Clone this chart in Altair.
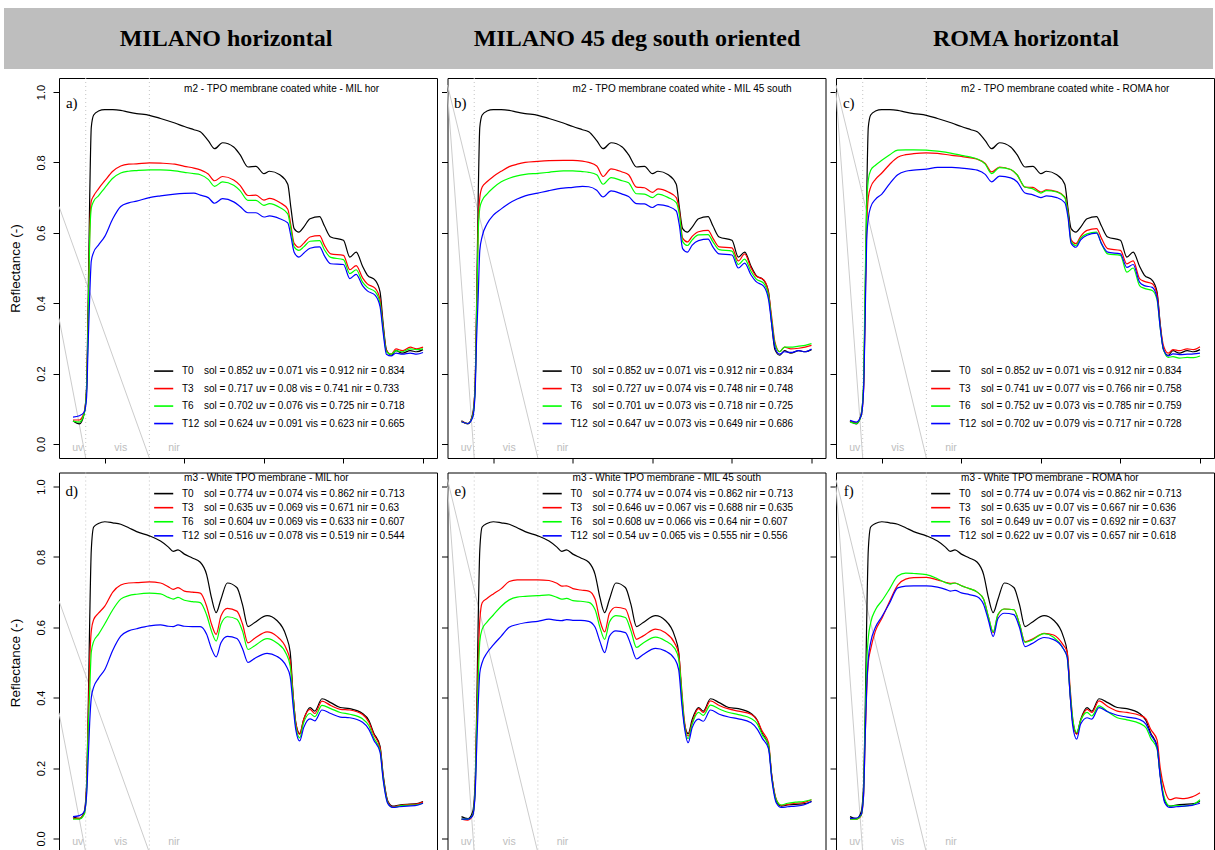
import altair as alt
import pandas as pd

SERIES = ["T0", "T3", "T6", "T12"]
COLORS = ["#000000", "#ff0000", "#00ff00", "#0000ff"]
HEADERS = ["MILANO horizontal", "MILANO 45 deg south oriented", "ROMA horizontal"]
LETTERS = ["a)", "b)", "c)", "d)", "e)", "f)"]
PANEL_TITLES = [
    "m2 - TPO membrane coated white - MIL hor",
    "m2 - TPO membrane coated white - MIL 45 south",
    "m2 - TPO membrane coated white - ROMA hor",
    "m3 - White TPO membrane - MIL hor",
    "m3 - White TPO membrane - MIL 45 south",
    "m3 - White TPO membrane - ROMA hor",
]

# wavelength grids (nm)
WL_M2 = [300, 340, 370, 385, 395, 405, 415, 430, 460, 500,
         550, 600, 650, 700, 780, 850, 940, 1000, 1060, 1100,
         1150, 1190, 1240, 1310, 1350, 1400, 1450, 1500, 1535, 1600,
         1650, 1670, 1690, 1720, 1750, 1790, 1850, 1880, 1920, 2000,
         2040, 2080, 2120, 2150, 2200, 2230, 2250, 2270, 2300, 2330,
         2370, 2420, 2460, 2500]
WL_M3 = [300, 340, 370, 385, 395, 405, 415, 430, 460, 500,
         550, 600, 650, 700, 780, 850, 900, 930, 960, 1000,
         1050, 1100, 1140, 1170, 1200, 1230, 1270, 1330, 1365, 1400,
         1440, 1520, 1580, 1640, 1665, 1685, 1700, 1725, 1750, 1790,
         1820, 1865, 1920, 1980, 2040, 2120, 2160, 2190, 2230, 2250,
         2280, 2310, 2350, 2400, 2450, 2500]

# m2 - TPO membrane coated white
M2_T0 = [0.066, 0.057, 0.085, 0.16, 0.40, 0.70, 0.90, 0.935, 0.946, 0.950,
         0.950, 0.948, 0.943, 0.939, 0.934, 0.925, 0.912, 0.902, 0.893, 0.887,
         0.862, 0.839, 0.856, 0.844, 0.822, 0.787, 0.789, 0.768, 0.775, 0.765,
         0.738, 0.67, 0.612, 0.602, 0.616, 0.640, 0.646, 0.62, 0.588, 0.579,
         0.531, 0.545, 0.505, 0.48, 0.465, 0.432, 0.34, 0.268, 0.252, 0.265,
         0.258, 0.265, 0.262, 0.268]
A_T3 = [0.068, 0.068, 0.09, 0.15, 0.35, 0.60, 0.69, 0.705, 0.725, 0.748,
        0.775, 0.79, 0.795, 0.796, 0.799, 0.798, 0.795, 0.789, 0.784, 0.779,
        0.767, 0.748, 0.760, 0.750, 0.735, 0.706, 0.707, 0.693, 0.698, 0.686,
        0.667, 0.62, 0.57, 0.559, 0.57, 0.588, 0.592, 0.565, 0.54, 0.536,
        0.495, 0.507, 0.472, 0.455, 0.442, 0.41, 0.33, 0.265, 0.255, 0.27,
        0.265, 0.275, 0.27, 0.275]
A_T6 = [0.065, 0.062, 0.085, 0.15, 0.34, 0.58, 0.67, 0.69, 0.705, 0.728,
        0.755, 0.77, 0.775, 0.777, 0.779, 0.779, 0.776, 0.772, 0.768, 0.765,
        0.752, 0.732, 0.745, 0.735, 0.72, 0.692, 0.692, 0.678, 0.683, 0.672,
        0.654, 0.61, 0.56, 0.55, 0.56, 0.576, 0.578, 0.552, 0.53, 0.524,
        0.484, 0.495, 0.46, 0.445, 0.432, 0.40, 0.325, 0.262, 0.255, 0.265,
        0.262, 0.27, 0.268, 0.27]
A_T12 = [0.076, 0.08, 0.09, 0.13, 0.28, 0.42, 0.52, 0.545, 0.565, 0.59,
         0.64, 0.675, 0.685, 0.69, 0.70, 0.705, 0.71, 0.712, 0.713, 0.707,
         0.70, 0.684, 0.697, 0.688, 0.675, 0.657, 0.657, 0.645, 0.648, 0.64,
         0.628, 0.59, 0.545, 0.531, 0.542, 0.556, 0.56, 0.535, 0.512, 0.51,
         0.47, 0.482, 0.45, 0.435, 0.422, 0.39, 0.315, 0.255, 0.25, 0.258,
         0.255, 0.258, 0.255, 0.26]
B_T3 = [0.064, 0.058, 0.08, 0.16, 0.38, 0.62, 0.70, 0.73, 0.745, 0.76,
        0.775, 0.788, 0.795, 0.80, 0.803, 0.805, 0.806, 0.806, 0.804, 0.80,
        0.79, 0.76, 0.782, 0.773, 0.765, 0.73, 0.728, 0.715, 0.725, 0.716,
        0.70, 0.66, 0.585, 0.574, 0.59, 0.603, 0.607, 0.585, 0.56, 0.557,
        0.52, 0.54, 0.50, 0.478, 0.466, 0.428, 0.36, 0.29, 0.262, 0.275,
        0.27, 0.272, 0.275, 0.28]
B_T6 = [0.063, 0.058, 0.078, 0.15, 0.36, 0.60, 0.67, 0.692, 0.71, 0.728,
        0.745, 0.755, 0.762, 0.766, 0.769, 0.772, 0.776, 0.776, 0.774, 0.772,
        0.765, 0.738, 0.757, 0.748, 0.742, 0.711, 0.71, 0.70, 0.71, 0.70,
        0.686, 0.65, 0.575, 0.564, 0.58, 0.594, 0.595, 0.575, 0.552, 0.548,
        0.51, 0.525, 0.49, 0.47, 0.456, 0.42, 0.35, 0.285, 0.262, 0.275,
        0.275, 0.278, 0.28, 0.285]
B_T12 = [0.063, 0.058, 0.075, 0.14, 0.30, 0.42, 0.55, 0.59, 0.625, 0.65,
         0.668, 0.684, 0.696, 0.705, 0.713, 0.72, 0.727, 0.729, 0.732, 0.731,
         0.721, 0.702, 0.719, 0.71, 0.703, 0.683, 0.682, 0.672, 0.68, 0.675,
         0.662, 0.62, 0.555, 0.545, 0.565, 0.578, 0.582, 0.56, 0.54, 0.537,
         0.50, 0.514, 0.48, 0.462, 0.448, 0.41, 0.34, 0.275, 0.255, 0.262,
         0.26, 0.265, 0.262, 0.27]
C_T3 = [0.065, 0.06, 0.08, 0.15, 0.38, 0.62, 0.70, 0.73, 0.752, 0.77,
        0.795, 0.815, 0.822, 0.825, 0.827, 0.826, 0.82, 0.817, 0.813, 0.809,
        0.797, 0.773, 0.787, 0.78, 0.765, 0.73, 0.729, 0.716, 0.722, 0.717,
        0.702, 0.66, 0.58, 0.569, 0.59, 0.607, 0.612, 0.585, 0.555, 0.55,
        0.512, 0.52, 0.47, 0.462, 0.455, 0.425, 0.34, 0.28, 0.258, 0.268,
        0.265, 0.27, 0.268, 0.276]
C_T6 = [0.062, 0.058, 0.08, 0.17, 0.45, 0.68, 0.75, 0.778, 0.792, 0.806,
        0.822, 0.835, 0.836, 0.836, 0.835, 0.832, 0.826, 0.82, 0.815, 0.81,
        0.795, 0.768, 0.785, 0.78, 0.765, 0.73, 0.725, 0.713, 0.72, 0.716,
        0.70, 0.655, 0.575, 0.564, 0.585, 0.597, 0.602, 0.57, 0.54, 0.536,
        0.488, 0.50, 0.45, 0.442, 0.436, 0.41, 0.33, 0.27, 0.246, 0.248,
        0.244, 0.246, 0.245, 0.25]
C_T12 = [0.067, 0.062, 0.08, 0.15, 0.35, 0.58, 0.64, 0.673, 0.695, 0.71,
         0.74, 0.765, 0.775, 0.778, 0.781, 0.786, 0.786, 0.784, 0.781, 0.778,
         0.766, 0.745, 0.761, 0.756, 0.745, 0.713, 0.708, 0.70, 0.705, 0.70,
         0.686, 0.645, 0.57, 0.559, 0.58, 0.593, 0.599, 0.57, 0.545, 0.54,
         0.502, 0.51, 0.46, 0.45, 0.445, 0.415, 0.33, 0.27, 0.25, 0.256,
         0.254, 0.255, 0.256, 0.258]

# m3 - White TPO membrane
M3_T0 = [0.062, 0.056, 0.075, 0.15, 0.35, 0.62, 0.82, 0.885, 0.895, 0.90,
         0.897, 0.893, 0.883, 0.872, 0.86, 0.845, 0.828, 0.816, 0.82, 0.808,
         0.797, 0.785, 0.75, 0.685, 0.642, 0.68, 0.726, 0.713, 0.665, 0.602,
         0.613, 0.633, 0.62, 0.575, 0.53, 0.40, 0.33, 0.298, 0.338, 0.372,
         0.362, 0.397, 0.386, 0.372, 0.369, 0.355, 0.335, 0.30, 0.262, 0.18,
         0.105, 0.092, 0.095, 0.097, 0.098, 0.105]
D_T3 = [0.057, 0.057, 0.07, 0.14, 0.33, 0.50, 0.59, 0.622, 0.64, 0.66,
        0.70, 0.72, 0.726, 0.727, 0.729, 0.726, 0.715, 0.708, 0.713, 0.703,
        0.70, 0.697, 0.66, 0.61, 0.58, 0.632, 0.654, 0.646, 0.61, 0.556,
        0.568, 0.587, 0.575, 0.54, 0.505, 0.40, 0.33, 0.296, 0.338, 0.367,
        0.355, 0.39, 0.378, 0.367, 0.365, 0.352, 0.33, 0.296, 0.258, 0.175,
        0.103, 0.09, 0.093, 0.096, 0.097, 0.103]
D_T6 = [0.055, 0.055, 0.068, 0.13, 0.30, 0.42, 0.53, 0.56, 0.58, 0.61,
        0.65, 0.68, 0.69, 0.694, 0.697, 0.695, 0.685, 0.68, 0.685, 0.677,
        0.673, 0.67, 0.635, 0.59, 0.561, 0.609, 0.63, 0.623, 0.59, 0.537,
        0.547, 0.568, 0.556, 0.525, 0.49, 0.39, 0.32, 0.286, 0.329, 0.355,
        0.346, 0.378, 0.369, 0.358, 0.353, 0.34, 0.32, 0.286, 0.25, 0.17,
        0.10, 0.088, 0.092, 0.094, 0.095, 0.10]
D_T12 = [0.062, 0.065, 0.075, 0.12, 0.22, 0.33, 0.40, 0.43, 0.455, 0.48,
         0.535, 0.575, 0.59, 0.596, 0.604, 0.607, 0.603, 0.602, 0.607, 0.603,
         0.602, 0.602, 0.58, 0.54, 0.516, 0.556, 0.574, 0.568, 0.54, 0.50,
         0.511, 0.526, 0.518, 0.49, 0.46, 0.37, 0.31, 0.277, 0.315, 0.34,
         0.334, 0.365, 0.355, 0.345, 0.343, 0.33, 0.31, 0.28, 0.245, 0.165,
         0.098, 0.088, 0.09, 0.092, 0.093, 0.10]
E_T3 = [0.055, 0.052, 0.065, 0.13, 0.32, 0.50, 0.62, 0.67, 0.682, 0.695,
        0.71, 0.73, 0.735, 0.735, 0.735, 0.733, 0.725, 0.717, 0.718, 0.71,
        0.706, 0.703, 0.68, 0.62, 0.587, 0.64, 0.657, 0.652, 0.61, 0.566,
        0.575, 0.595, 0.585, 0.555, 0.525, 0.42, 0.34, 0.291, 0.33, 0.369,
        0.358, 0.391, 0.378, 0.368, 0.362, 0.353, 0.335, 0.305, 0.272, 0.18,
        0.11, 0.094, 0.097, 0.10, 0.102, 0.11]
E_T6 = [0.055, 0.055, 0.066, 0.13, 0.30, 0.45, 0.56, 0.595, 0.615, 0.635,
        0.66, 0.678, 0.686, 0.688, 0.69, 0.692, 0.685, 0.68, 0.682, 0.676,
        0.674, 0.671, 0.65, 0.60, 0.566, 0.615, 0.633, 0.628, 0.59, 0.543,
        0.555, 0.572, 0.562, 0.54, 0.51, 0.41, 0.33, 0.284, 0.325, 0.358,
        0.35, 0.379, 0.368, 0.358, 0.352, 0.341, 0.325, 0.295, 0.265, 0.175,
        0.108, 0.095, 0.10, 0.103, 0.105, 0.11]
E_T12 = [0.055, 0.055, 0.065, 0.12, 0.25, 0.38, 0.47, 0.50, 0.527, 0.55,
         0.575, 0.60, 0.608, 0.613, 0.617, 0.623, 0.62, 0.619, 0.622, 0.62,
         0.62, 0.617, 0.60, 0.56, 0.528, 0.575, 0.59, 0.585, 0.55, 0.51,
         0.522, 0.54, 0.533, 0.51, 0.48, 0.38, 0.32, 0.272, 0.315, 0.339,
         0.333, 0.365, 0.353, 0.345, 0.34, 0.329, 0.31, 0.285, 0.255, 0.17,
         0.10, 0.088, 0.09, 0.092, 0.095, 0.105]
F_T3 = [0.055, 0.055, 0.065, 0.12, 0.28, 0.42, 0.50, 0.538, 0.59, 0.625,
        0.675, 0.72, 0.737, 0.741, 0.742, 0.735, 0.728, 0.725, 0.726, 0.718,
        0.71, 0.70, 0.68, 0.63, 0.585, 0.635, 0.652, 0.65, 0.61, 0.559,
        0.565, 0.583, 0.578, 0.55, 0.53, 0.42, 0.34, 0.296, 0.335, 0.367,
        0.358, 0.391, 0.375, 0.362, 0.358, 0.35, 0.34, 0.31, 0.28, 0.20,
        0.135, 0.11, 0.115, 0.113, 0.118, 0.13]
F_T6 = [0.055, 0.055, 0.066, 0.13, 0.32, 0.50, 0.57, 0.613, 0.65, 0.675,
        0.71, 0.746, 0.754, 0.753, 0.75, 0.738, 0.727, 0.723, 0.726, 0.718,
        0.71, 0.70, 0.68, 0.63, 0.587, 0.637, 0.652, 0.65, 0.61, 0.557,
        0.563, 0.582, 0.572, 0.54, 0.515, 0.41, 0.34, 0.301, 0.335, 0.358,
        0.348, 0.377, 0.36, 0.343, 0.337, 0.327, 0.315, 0.285, 0.255, 0.18,
        0.11, 0.092, 0.093, 0.092, 0.095, 0.11]
F_T12 = [0.057, 0.058, 0.068, 0.12, 0.28, 0.43, 0.51, 0.557, 0.60, 0.63,
         0.67, 0.712, 0.717, 0.718, 0.718, 0.714, 0.708, 0.703, 0.705, 0.698,
         0.693, 0.687, 0.665, 0.62, 0.574, 0.625, 0.64, 0.636, 0.60, 0.545,
         0.553, 0.571, 0.565, 0.54, 0.515, 0.40, 0.32, 0.282, 0.325, 0.343,
         0.339, 0.372, 0.36, 0.35, 0.345, 0.338, 0.325, 0.295, 0.26, 0.175,
         0.10, 0.088, 0.09, 0.092, 0.094, 0.10]

# legend statistics: sol, uv, vis, nir for T0, T3, T6, T12
STATS_A = [["0.852", "0.071", "0.912", "0.834"], ["0.717", "0.08", "0.741", "0.733"],
           ["0.702", "0.076", "0.725", "0.718"], ["0.624", "0.091", "0.623", "0.665"]]
STATS_B = [["0.852", "0.071", "0.912", "0.834"], ["0.727", "0.074", "0.748", "0.748"],
           ["0.701", "0.073", "0.718", "0.725"], ["0.647", "0.073", "0.649", "0.686"]]
STATS_C = [["0.852", "0.071", "0.912", "0.834"], ["0.741", "0.077", "0.766", "0.758"],
           ["0.752", "0.073", "0.785", "0.759"], ["0.702", "0.079", "0.717", "0.728"]]
STATS_D = [["0.774", "0.074", "0.862", "0.713"], ["0.635", "0.069", "0.671", "0.63"],
           ["0.604", "0.069", "0.633", "0.607"], ["0.516", "0.078", "0.519", "0.544"]]
STATS_E = [["0.774", "0.074", "0.862", "0.713"], ["0.646", "0.067", "0.688", "0.635"],
           ["0.608", "0.066", "0.64", "0.607"], ["0.54", "0.065", "0.555", "0.556"]]
STATS_F = [["0.774", "0.074", "0.862", "0.713"], ["0.635", "0.07", "0.667", "0.636"],
           ["0.649", "0.07", "0.692", "0.637"], ["0.622", "0.07", "0.657", "0.618"]]

X_TICKS = [500, 1000, 1500, 2000, 2500]
Y_TICKS = [0.0, 0.2, 0.4, 0.6, 0.8, 1.0]
BAND_EDGES = [380, 780]
REGIONS = ["uv", "vis", "nir"]
REGION_X = [330, 600, 935]
# grey guide lines: (value at left edge, wavelength where they reach the bottom)
GUIDES_LEFT = [(0.675, 780), (0.357, 380)]
GUIDES_OTHER = [(1.02, 780), (1.0, 380)]

XDOM = [212, 2588]
YDOM = [-0.04, 1.04]
W, H = 378, 380
SANS = "Liberation Sans"
SERIF = "Liberation Serif"

PANELS = [
    (WL_M2, [M2_T0, A_T3, A_T6, A_T12], STATS_A, GUIDES_LEFT, True),
    (WL_M2, [M2_T0, B_T3, B_T6, B_T12], STATS_B, GUIDES_OTHER, False),
    (WL_M2, [M2_T0, C_T3, C_T6, C_T12], STATS_C, GUIDES_OTHER, False),
    (WL_M3, [M3_T0, D_T3, D_T6, D_T12], STATS_D, GUIDES_LEFT, True),
    (WL_M3, [M3_T0, E_T3, E_T6, E_T12], STATS_E, GUIDES_OTHER, False),
    (WL_M3, [M3_T0, F_T3, F_T6, F_T12], STATS_F, GUIDES_OTHER, False),
]


def make_panel(i):
    wl, curves, stats, guides, show_y = PANELS[i]
    top = i < 3
    xs = alt.Scale(domain=XDOM, nice=False, zero=False)
    ys = alt.Scale(domain=YDOM, nice=False, zero=False)
    cs = alt.Scale(domain=SERIES, range=COLORS)

    yax = dict(values=Y_TICKS, format=".1f", tickSize=6, domain=False, grid=False,
               tickColor="black", tickWidth=1)
    if show_y:
        yax.update(labels=True, labelAngle=270, labelPadding=7, labelFont=SANS,
                   labelFontSize=11, labelColor="black", titleFont=SANS,
                   titleFontSize=13.5, titleFontWeight="normal", titleColor="black",
                   titleX=-44, titleY=H / 2, titleAngle=270, titleBaseline="middle",
                   titleAlign="center")
        ytitle = "Reflectance (-)"
    else:
        yax.update(labels=False)
        ytitle = ""
    yaxis = alt.Axis(**yax)
    xaxis = alt.Axis(values=X_TICKS, labels=False, tickSize=5, domain=False, grid=False,
                     tickColor="black", tickWidth=1)

    def X(f):
        return alt.X(f, scale=xs, axis=xaxis, title="")

    def Y(f):
        return alt.Y(f, scale=ys, axis=yaxis, title=ytitle)

    recs = []
    for s, vals in zip(SERIES, curves):
        assert len(vals) == len(wl), (i, s, len(vals), len(wl))
        for w, v in zip(wl, vals):
            recs.append({"wl": w, "r": v, "series": s})
    df = pd.DataFrame(recs)

    one = pd.DataFrame({"k": [0]})
    layers = []

    # spectra (first layer carries the axes)
    spectra = alt.Chart(df).mark_line(strokeWidth=1.2, interpolate="monotone").encode(
        x=X("wl:Q"), y=Y("r:Q"),
        color=alt.Color("series:N", scale=cs, legend=None))

    # dotted band limits
    layers.append(alt.Chart(pd.DataFrame({"x": BAND_EDGES})).mark_rule(
        color="#c4c4c4", strokeDash=[1, 3], strokeWidth=1).encode(x=X("x:Q")))

    # grey guide lines
    gdf = pd.DataFrame({"x": [XDOM[0]] * len(guides), "y": [g[0] for g in guides],
                        "x2": [g[1] for g in guides], "y2": [YDOM[0]] * len(guides)})
    layers.append(alt.Chart(gdf).mark_rule(color="#cccccc", strokeWidth=1).encode(
        x=X("x:Q"), y=Y("y:Q"), x2="x2:Q", y2="y2:Q"))

    # region labels
    rdf = pd.DataFrame({"x": REGION_X, "t": REGIONS, "y": [-0.011] * 3})
    layers.append(alt.Chart(rdf).mark_text(font=SANS, fontSize=10.5, color="#bdbdbd",
                                           baseline="middle").encode(
        x=X("x:Q"), y=Y("y:Q"), text="t:N"))

    layers.append(spectra)

    # legend
    y0, dy = (0.207, 0.0497) if top else (0.98, 0.04)
    ty = 1.009 if top else 1.023
    ldf = pd.DataFrame({
        "series": SERIES,
        "y": [y0 - k * dy for k in range(4)],
        "x1": [810] * 4, "x2": [930] * 4, "xl": [985] * 4, "xs": [1123] * 4,
        "stats": ["sol = %s uv = %s vis = %s nir = %s" % tuple(s) for s in stats],
    })
    layers.append(alt.Chart(ldf).mark_rule(strokeWidth=1.6).encode(
        x=X("x1:Q"), x2="x2:Q", y=Y("y:Q"),
        color=alt.Color("series:N", scale=cs, legend=None)))
    layers.append(alt.Chart(ldf).mark_text(font=SANS, fontSize=10, align="left",
                                           baseline="middle", color="black").encode(
        x=X("xl:Q"), y=Y("y:Q"), text="series:N"))
    layers.append(alt.Chart(ldf).mark_text(font=SANS, fontSize=10, align="left",
                                           baseline="middle", color="black").encode(
        x=X("xs:Q"), y=Y("y:Q"), text="stats:N"))

    # panel title and letter
    tdf = pd.DataFrame({"x": [998], "y": [ty], "t": [PANEL_TITLES[i]]})
    layers.append(alt.Chart(tdf).mark_text(font=SANS, fontSize=10, align="left",
                                           baseline="middle", color="black").encode(
        x=X("x:Q"), y=Y("y:Q"), text="t:N"))
    lt = pd.DataFrame({"x": [292], "y": [0.968 if top else 0.988], "t": [LETTERS[i]]})
    layers.append(alt.Chart(lt).mark_text(font=SERIF, fontSize=15, align="center",
                                          baseline="middle", color="black").encode(
        x=X("x:Q"), y=Y("y:Q"), text="t:N"))

    if i == 0:
        layers.append(alt.Chart(one).mark_rect(color="#bebebe").encode(
            x=alt.value(-55), x2=alt.value(1154), y=alt.value(-70), y2=alt.value(-9)))
        for txt, px in zip(HEADERS, [167, 578, 967]):
            layers.append(alt.Chart(one).mark_text(
                font=SERIF, fontSize=24, fontWeight="bold", align="center",
                baseline="middle", color="black").encode(
                x=alt.value(px), y=alt.value(-39), text=alt.value(txt)))

    return alt.layer(*layers).properties(width=W, height=H)


panels = [make_panel(i) for i in range(6)]

chart = alt.concat(
    *panels, columns=3, spacing={"row": 14.5, "column": 10.5}, bounds="flush"
).properties(
    padding={"left": 3, "top": 7, "right": 0, "bottom": 0},
    background="white",
).configure_view(stroke="black", strokeWidth=1)

chart.save("out.html", embed_options={"renderer": "svg", "actions": False})
